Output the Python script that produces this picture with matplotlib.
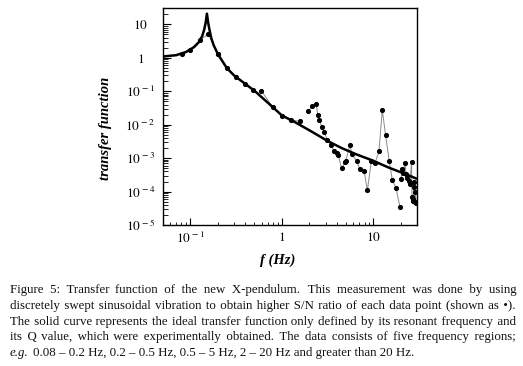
import matplotlib
matplotlib.use("Agg")
import matplotlib.pyplot as plt
from matplotlib.ticker import LogLocator, FixedLocator, FixedFormatter, NullFormatter

plt.rcParams['mathtext.fontset'] = 'stix'
plt.rcParams['font.family'] = ['Liberation Serif', 'DejaVu Serif']

# ---- data ----
# ideal transfer function curve
curve_f = [0.05, 0.07, 0.09, 0.11, 0.125, 0.135, 0.142, 0.147, 0.152, 0.157, 0.162,
           0.17, 0.18, 0.2, 0.25, 0.3, 0.4, 0.5, 0.7, 1.0, 1.4, 2.0, 3.14, 4.5, 6.5,
           9.5, 14.5, 22.0, 30.0]
curve_h = [1.1, 1.2, 1.5, 2.1, 3.0, 4.5, 7.0, 11.0, 21.0, 11.0, 7.0,
           3.8, 2.4, 1.3, 0.5, 0.3, 0.165, 0.105, 0.046, 0.019, 0.0118, 0.0068, 0.0033,
           0.002, 0.0013, 8.8e-4, 5.3e-4, 3.4e-4, 2.4e-4]

# region 1: 0.08 - 0.2 Hz
f1 = [0.081, 0.1, 0.128, 0.158, 0.2]
h1 = [1.26, 1.74, 3.46, 5.2, 1.26]
# region 2: 0.2 - 0.5 Hz
f2 = [0.2, 0.25, 0.318, 0.4, 0.49]
h2 = [1.3, 0.49, 0.26, 0.166, 0.11]
# region 3: 0.5 - 5 Hz
f3 = [0.594, 0.8, 1.0, 1.26, 1.58]
h3 = [0.105, 0.033, 0.018, 0.0138, 0.0126]
# region 4: 2 - 20 Hz
f4 = [1.95, 2.16, 2.37, 2.47, 2.55, 2.73, 2.9, 3.14, 3.41, 3.74, 3.97, 4.14, 4.5,
      4.9, 5.0, 5.55, 5.8, 6.56, 7.1, 7.9, 8.6, 9.5, 10.4, 11.5, 12.5, 13.6, 14.9,
      16.1, 17.6, 19.5]
h4 = [0.025, 0.037, 0.043, 0.0197, 0.0142, 0.0088, 0.0060, 0.0036, 0.0025, 0.0016,
      0.0014, 0.0012, 4.9e-4, 7.5e-4, 8.5e-4, 0.0025, 0.0013, 8.4e-4, 4.7e-4, 4.2e-4,
      1.1e-4, 8.4e-4, 7.0e-4, 0.0016, 0.0276, 0.0048, 8.0e-4, 2.2e-4, 1.3e-4, 3.5e-5]
# region 5: > 20 Hz
f5 = [20.0, 20.6, 21.3, 22.1, 22.8, 23.5, 24.2, 25.0, 26.1, 26.4, 26.8, 27.2, 27.6,
      28.0, 28.4, 28.8, 29.2]
h5 = [2.4e-4, 4.7e-4, 3.6e-4, 7.0e-4, 3.3e-4, 2.6e-4, 2.1e-4, 1.7e-4, 7.6e-4, 6.7e-5,
      6.0e-5, 5.3e-5, 2.0e-4, 1.4e-4, 4.8e-5, 1.0e-4, 4.5e-5]

regions_f = [f1, f2, f3, f4, f5]
regions_h = [h1, h2, h3, h4, h5]

x_ticks = [0.1, 1, 10]
x_ticklabels = [r'$10^{\,-1}$', r'$1$', r'$10$']
y_ticks = [1e-5, 1e-4, 1e-3, 1e-2, 1e-1, 1, 10]
y_ticklabels = [r'$10^{\,-5}$', r'$10^{\,-4}$', r'$10^{\,-3}$', r'$10^{\,-2}$',
                r'$10^{\,-1}$', r'$1$', r'$10$']

caption_lines = [
    "Figure 5: Transfer function of the new X-pendulum. This measurement was done by using",
    "discretely swept sinusoidal vibration to obtain higher S/N ratio of each data point (shown as \u2022).",
    "The solid curve represents the ideal transfer function only defined by its resonant frequency and",
    "its Q value, which were experimentally obtained. The data consists of five frequency regions;",
    "0.08 \u2013 0.2 Hz, 0.2 \u2013 0.5 Hz, 0.5 \u2013 5 Hz, 2 \u2013 20 Hz and greater than 20 Hz.",
]
caption_last_prefix = "e.g."

# ---- figure ----
W, H = 523, 366
fig = plt.figure(figsize=(W / 100, H / 100), dpi=100)
ax = fig.add_axes([162.7 / W, 1 - 225 / H, (416.7 - 162.7) / W, (225 - 8) / H])

for ff, hh in zip(regions_f, regions_h):
    ax.plot(ff, hh, color='#8a8a8a', lw=0.7, marker='o', ms=2.7,
            mfc='black', mec='black', zorder=2)
ax.plot(curve_f, curve_h, color='black', lw=1.8, zorder=3)

ax.set_xscale('log')
ax.set_yscale('log')
ax.set_xlim(0.05, 29.7)
ax.set_ylim(1e-5, 31)

ax.xaxis.set_major_locator(FixedLocator(x_ticks))
ax.xaxis.set_major_formatter(FixedFormatter(x_ticklabels))
ax.xaxis.set_minor_locator(LogLocator(base=10, subs=range(2, 10), numticks=20))
ax.xaxis.set_minor_formatter(NullFormatter())
ax.yaxis.set_major_locator(FixedLocator(y_ticks))
ax.yaxis.set_major_formatter(FixedFormatter(y_ticklabels))
ax.yaxis.set_minor_locator(LogLocator(base=10, subs=range(2, 10), numticks=20))
ax.yaxis.set_minor_formatter(NullFormatter())

ax.tick_params(axis='x', which='major', direction='in', length=5, width=0.8,
               labelsize=9.5, pad=4, top=False)
ax.tick_params(axis='x', which='minor', direction='in', length=2.5, width=0.6, top=False)
ax.tick_params(axis='y', which='major', direction='in', length=6, width=0.8,
               labelsize=9.5, pad=16, right=False)
ax.tick_params(axis='y', which='minor', direction='in', length=3.5, width=0.6, right=False)
for lab in ax.get_yticklabels():
    lab.set_horizontalalignment('center')
for s in ax.spines.values():
    s.set_linewidth(1.0)

fig.text(105 / W, 1 - 128.5 / H, 'transfer function', rotation=90, ha='center', va='center',
         fontsize=10.5, fontweight='bold', style='italic', family='Liberation Serif')
fig.text(278 / W, 1 - 260 / H, 'f (Hz)', ha='center', va='center',
         fontsize=10.5, fontweight='bold', style='italic', family='Liberation Serif')

# ---- justified caption (one text object per line, gaps widened with hair spaces) ----
renderer = fig.canvas.get_renderer()
left_px, right_px = 10.0, 516.0
line_base = [293.0, 308.7, 324.5, 340.0, 355.7]
cap_fs = 9.3
cap_family = ['Liberation Serif', 'DejaVu Serif']


def measure(s, style='normal'):
    t = fig.text(0, 0, s, fontsize=cap_fs, family=cap_family, style=style)
    w = t.get_window_extent(renderer).width
    t.remove()
    return w


HAIR = '\u200a'
hair_w = measure('a' + HAIR * 10 + 'a') / 10.0 - measure('aa') / 10.0
if hair_w < 0.3:
    HAIR = '\u2009'
    hair_w = measure('a' + HAIR * 10 + 'a') / 10.0 - measure('aa') / 10.0


def justify(text):
    words = text.split(' ')
    natural = measure(text)
    extra = (right_px - left_px) - natural
    n_units = max(0, int(round(extra / hair_w)))
    weights = [1.6 if w.endswith('.') else 1.0 for w in words[:-1]]
    total_w = sum(weights)
    counts = []
    acc = 0.0
    given = 0
    for wt in weights:
        acc += n_units * wt / total_w
        c = int(round(acc)) - given
        counts.append(c)
        given += c
    out = words[0]
    for w, c in zip(words[1:], counts):
        out += ' ' + HAIR * c + w
    return out


for i, (ln, yb) in enumerate(zip(caption_lines, line_base)):
    if i < len(caption_lines) - 1:
        fig.text(left_px / W, 1 - yb / H, justify(ln), fontsize=cap_fs, family=cap_family,
                 ha='left', va='baseline', color='#111111')
    else:
        t0 = fig.text(left_px / W, 1 - yb / H, caption_last_prefix, fontsize=cap_fs,
                      family=cap_family, style='italic', ha='left', va='baseline',
                      color='#111111')
        w0 = t0.get_window_extent(renderer).width
        fig.text((left_px + w0 + 4.0) / W, 1 - yb / H, ln, fontsize=cap_fs,
                 family=cap_family, ha='left', va='baseline', color='#111111')

fig.savefig('out.png', dpi=100)
